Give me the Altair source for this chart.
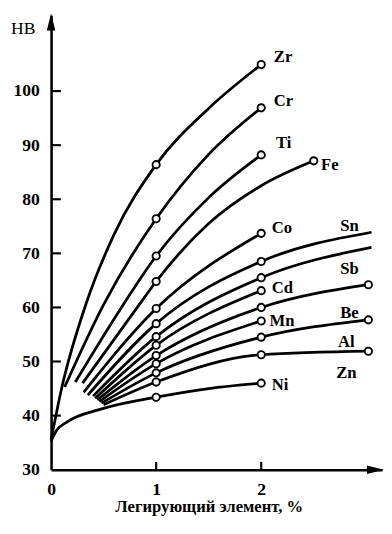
import altair as alt
import pandas as pd

# ---- data ----
elements = ["Zr", "Cr", "Ti", "Fe", "Co", "Sn", "Sb", "Cd", "Be", "Mn", "Al", "Zn", "Ni"]

zr_x = [0.0, 0.10, 0.33, 0.60, 1.0, 1.5, 2.0]
zr_y = [35.5, 45.0, 60.5, 73.5, 86.4, 96.8, 104.9]
cr_x = [0.13, 0.50, 1.0, 1.5, 2.0]
cr_y = [45.3, 60.5, 76.4, 88.3, 96.9]
ti_x = [0.23, 0.67, 1.0, 1.5, 2.0]
ti_y = [46.2, 60.0, 69.5, 80.3, 88.2]
fe_x = [0.30, 0.82, 1.0, 1.5, 2.0, 2.5]
fe_y = [46.0, 60.0, 64.8, 75.5, 82.5, 87.1]
co_x = [0.31, 1.0, 2.0]
co_y = [44.3, 59.8, 73.7]
sn_x = [0.35, 1.0, 2.0, 3.05]
sn_y = [43.8, 57.0, 68.5, 73.9]
sb_x = [0.40, 1.0, 2.0, 3.05]
sb_y = [43.6, 54.6, 65.5, 71.1]
cd_x = [0.42, 1.0, 2.0]
cd_y = [43.2, 53.0, 63.1]
be_x = [0.44, 1.0, 2.0, 3.02]
be_y = [42.9, 51.1, 60.0, 64.2]
mn_x = [0.46, 1.0, 2.0]
mn_y = [42.6, 49.6, 57.5]
al_x = [0.48, 1.0, 2.0, 3.02]
al_y = [42.3, 47.9, 54.5, 57.7]
zn_x = [0.50, 1.0, 2.0, 3.02]
zn_y = [42.0, 46.2, 51.25, 51.9]
ni_x = [0.0, 0.05, 0.15, 0.475, 1.0, 1.5, 2.0]
ni_y = [35.3, 37.2, 38.8, 41.2, 43.4, 45.0, 46.0]

curve_x = [zr_x, cr_x, ti_x, fe_x, co_x, sn_x, sb_x, cd_x, be_x, mn_x, al_x, zn_x, ni_x]
curve_y = [zr_y, cr_y, ti_y, fe_y, co_y, sn_y, sb_y, cd_y, be_y, mn_y, al_y, zn_y, ni_y]

# x positions of the open circles on each curve
marker_x = [[1, 2], [1, 2], [1, 2], [1, 2.5], [1, 2], [1, 2], [1, 2], [1, 2],
            [1, 2, 3.02], [1, 2], [1, 2, 3.02], [1, 2, 3.02], [1, 2]]

# curve labels
label_x = [2.12, 2.12, 2.14, 2.57, 2.10, 2.84, 2.84, 2.10, 2.84, 2.08, 2.81, 2.81, 2.10]
label_y = [106.2, 98.2, 90.4, 86.4, 74.7, 75.0, 67.1, 63.5, 58.9, 57.5, 53.6, 47.9, 45.7]
label_align = ["left", "left", "left", "left", "left", "center", "center", "left",
               "center", "left", "center", "center", "left"]

y_ticks = [40, 50, 60, 70, 80, 90, 100]
y_labels = [30, 40, 50, 60, 70, 80, 90, 100]
x_ticks = [1, 2]
x_labels = [0, 1, 2]

# ---- tables ----
line_rows, mark_rows = [], []
for el, xs, ys, mx in zip(elements, curve_x, curve_y, marker_x):
    for xv, yv in zip(xs, ys):
        line_rows.append({"el": el, "x": xv, "y": yv})
        if xv in mx:
            mark_rows.append({"el": el, "x": xv, "y": yv})
lines_df = pd.DataFrame(line_rows)
marks_df = pd.DataFrame(mark_rows)
labels_df = pd.DataFrame({"el": elements, "x": label_x, "y": label_y, "align": label_align})
ytick_df = pd.DataFrame({"y": y_ticks})
xtick_df = pd.DataFrame({"x": x_ticks})

SERIF = "Liberation Serif"

X = alt.X("x:Q",
          scale=alt.Scale(domain=[0, 3.15], nice=False, zero=False),
          axis=alt.Axis(values=x_labels, format="d", ticks=False, tickSize=0, grid=False,
                        domainColor="black", domainWidth=2.6,
                        labelFont=SERIF, labelFontSize=18, labelFontWeight="bold",
                        labelColor="black", labelPadding=11, labelFlush=False,
                        labelOverlap=False,
                        title="Легирующий элемент, %", titleFont=SERIF, titleFontSize=17,
                        titleFontWeight="bold", titleColor="black", titleX=161, titleY=38,
                        titleAlign="center", titleBaseline="middle"))
Y = alt.Y("y:Q",
          scale=alt.Scale(domain=[30, 114], nice=False, zero=False),
          axis=alt.Axis(values=y_labels, ticks=False, tickSize=0, grid=False,
                        domainColor="black", domainWidth=2.6,
                        labelFont=SERIF, labelFontSize=18, labelFontWeight="bold",
                        labelColor="black", labelPadding=12, labelOverlap=False,
                        title="HB", titleFont=SERIF, titleFontSize=18,
                        titleFontWeight="normal", titleColor="black", titleAngle=0,
                        titleX=-29, titleY=14, titleAlign="center",
                        titleBaseline="middle"))

lines = alt.Chart(lines_df).mark_line(
    interpolate="monotone", color="black", strokeWidth=2.8
).encode(x=X, y=Y, detail="el:N")

circles = alt.Chart(marks_df).mark_point(
    shape="circle", filled=True, fill="white", stroke="black", strokeWidth=1.9,
    size=55, opacity=1
).encode(x=X, y=Y)

text_left = alt.Chart(labels_df).transform_filter(alt.datum.align == "left").mark_text(
    align="left", baseline="middle", font=SERIF, fontSize=17, fontWeight="bold",
    color="black"
).encode(x=X, y=Y, text="el:N")

text_center = alt.Chart(labels_df).transform_filter(alt.datum.align == "center").mark_text(
    align="center", baseline="middle", font=SERIF, fontSize=17, fontWeight="bold",
    color="black"
).encode(x=X, y=Y, text="el:N")

yticks = alt.Chart(ytick_df).mark_rule(color="black", strokeWidth=2.2).encode(
    y=Y, x=alt.value(0), x2=alt.value(10))
xticks = alt.Chart(xtick_df).mark_rule(color="black", strokeWidth=2.2).encode(
    x=X, y=alt.value(464), y2=alt.value(456))

arrow_up = alt.Chart(ytick_df).transform_filter(alt.datum.y == 100).mark_point(
    shape="M0,-1L0.5,1L-0.5,1Z", filled=True, color="black", opacity=1, size=300
).encode(x=alt.value(0), y=alt.value(6.7))
arrow_right = alt.Chart(ytick_df).transform_filter(alt.datum.y == 100).mark_point(
    shape="M1,0L-1,0.5L-1,-0.5Z", filled=True, color="black", opacity=1, size=300
).encode(x=alt.value(331.3), y=alt.value(464))

chart = alt.layer(
    lines, circles, text_left, text_center, yticks, xticks, arrow_up, arrow_right
).properties(
    width=338, height=464,
    padding={"left": 44, "top": 2, "right": 2, "bottom": 52},
    autosize=alt.AutoSizeParams(type="none"),
    background="white",
).configure_view(stroke=None)

chart.save("out.html", embed_options={"renderer": "svg", "actions": False})
